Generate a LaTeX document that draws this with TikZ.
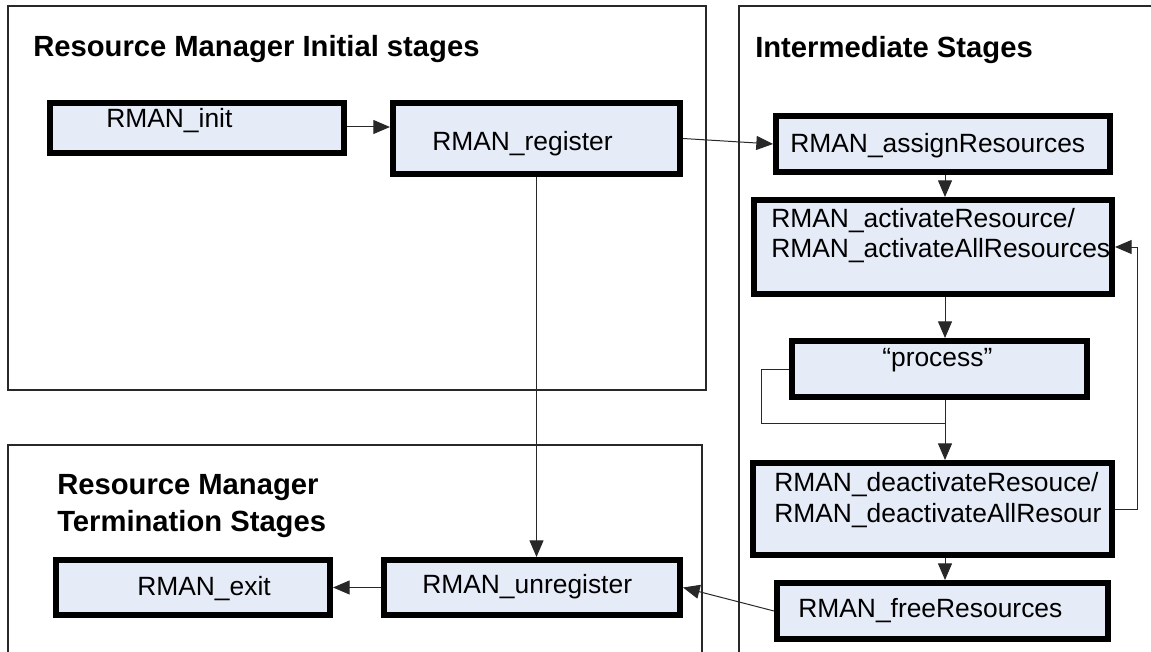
\documentclass[tikz,border=0pt]{standalone}
\usepackage{fontspec}
\setmainfont{Liberation Sans}
\usetikzlibrary{arrows.meta}
\definecolor{boxfill}{RGB}{229,235,247}
\definecolor{rule}{RGB}{40,40,40}

% Stage box placed by its outer corners (x1,y1) and (x2,y2), in pixel units;
% the border is 5.6 px wide
\newcommand\stagebox[5]{%
  \node[stage,minimum width={(#4-#2-5.6)*0.75pt},minimum height={(#5-#3-5.6)*0.75pt}]
    (#1) at (#2,#3) {};}

\begin{document}
\begin{tikzpicture}[x=0.75pt,y=-0.75pt,
  stage/.style={draw=black,line width=4.2pt,outer sep=2.1pt,fill=boxfill,
                inner sep=0pt,anchor=north west},
  frame/.style={draw=rule,line width=1.1pt},
  link/.style={draw=rule,line width=0.75pt,-{Triangle[length=12.5pt,width=10.5pt]}},
  plain/.style={draw=rule,line width=0.75pt},
  boxtext/.style={anchor=base west,inner sep=0pt,
                  font=\fontsize{19.8pt}{24pt}\selectfont},
  heading/.style={anchor=base west,inner sep=0pt,
                  font=\bfseries\fontsize{21.9pt}{26pt}\selectfont}]

\useasboundingbox (0,0) rectangle (1151,652);
\begin{scope}
\clip (0,0) rectangle (1151,652);

% stage frames
\draw[frame] (8,6) rectangle (706,390);
\draw[frame] (739,6) rectangle (1170,680);
\draw[frame] (8,445) rectangle (702,680);

% frame headings
\node[heading] (h-init) at (33,57) {Resource Manager Initial stages};
\node[heading] (h-mid) at (755,58) {Intermediate Stages};
\node[heading] (h-term1) at (57,494) {Resource Manager};
\node[heading] (h-term2) at (57,531) {Termination Stages};

% stage boxes
\stagebox{init}{47}{100}{347}{156}
\stagebox{register}{390}{100}{683}{177}
\stagebox{assign}{773}{113}{1113}{175}
\stagebox{activate}{751}{197}{1115}{297}
\stagebox{process}{789}{338}{1090}{400}
\stagebox{deactivate}{750}{460}{1115}{558}
\stagebox{free}{774}{580}{1111}{642}
\stagebox{exit}{53}{557}{333}{618}
\stagebox{unregister}{381}{557}{683}{618}

% box captions
\node[boxtext] (t-init) at (106,128) {RMAN\_init};
\node[boxtext] (t-register) at (432,151) {RMAN\_register};
\node[boxtext] (t-assign) at (790,153) {RMAN\_assignResources};
\node[boxtext] (t-act1) at (771,228) {RMAN\_activateResource/};
\node[boxtext] (t-act2) at (771,257) {RMAN\_activateAllResources};
\node[boxtext] (t-process) at (882,366) {“process”};
\node[boxtext] (t-deact1) at (774,491) {RMAN\_deactivateResouce/};
\node[boxtext] (t-deact2) at (774,522) {RMAN\_deactivateAllResour};
\node[boxtext] (t-free) at (798,617) {RMAN\_freeResources};
\node[boxtext] (t-exit) at (137,595) {RMAN\_exit};
\node[boxtext] (t-unregister) at (422,593) {RMAN\_unregister};

% routing points
\coordinate (spine) at (945,0);
\coordinate (bypass) at (761,0);
\coordinate (merge) at (945,423);
\coordinate (ret) at (1137,0);

% connectors
\draw[link] (init.east |- 0,127) -- (register.west |- 0,127);
\draw[link] (register.east) -- (assign.west);
\draw[link] (register.south) -- (register.south |- unregister.north);
\draw[link] (assign.south -| spine) -- (activate.north -| spine);
\draw[link] (activate.south -| spine) -- (process.north -| spine);
\draw[link] (process.south -| spine) -- (deactivate.north -| spine);
\draw[plain] (process.west) -- (process.west -| bypass) |- (merge);
\draw[link] (deactivate.east) -- (deactivate.east -| ret) |- (activate.east);
\draw[link] (deactivate.south -| spine) -- (free.north -| spine);
\draw[link] (free.west) -- (unregister.east);
\draw[link] (unregister.west) -- (exit.east);
\end{scope}
\end{tikzpicture}
\end{document}
